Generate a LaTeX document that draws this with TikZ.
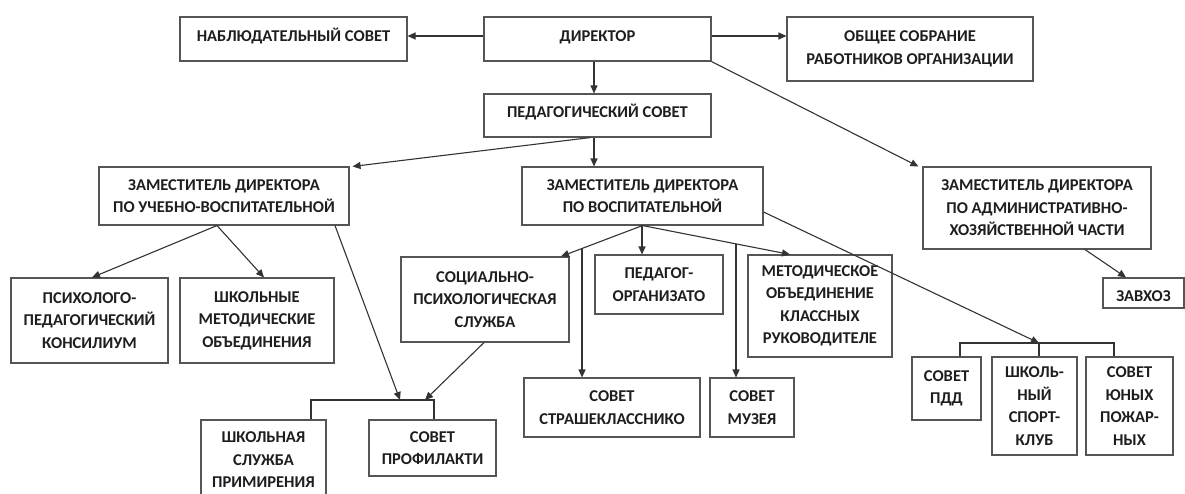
\documentclass[tikz,border=0pt]{standalone}
\usepackage{fontspec}
\setmainfont{Carlito}
\usetikzlibrary{arrows.meta,calc}
\definecolor{ln}{HTML}{333333}
\definecolor{bx}{HTML}{555555}
\definecolor{tx}{HTML}{1E1E1E}
\newcommand{\lowr}[2]{\raisebox{#1}[0pt][0pt]{#2}}
\tikzset{
  box/.style={draw=bx, line width=1.1pt, fill=white, inner sep=0pt, align=center, text=tx,
    font=\bfseries\fontsize{16.5}{22.5}\selectfont},
  arr/.style={draw=ln, line width=1.1pt, -{Triangle[length=8pt,width=7pt]}},
  ln/.style={draw=ln, line width=1.1pt}
}
\begin{document}
\begin{tikzpicture}[x=1pt,y=-1pt]
\useasboundingbox[fill=white] (0,0) rectangle (1185,493);
% row 1
\node[box, minimum width=227pt, minimum height=44pt] (nabl) at (293.5,39) {\lowr{-2pt}{НАБЛЮДАТЕЛЬНЫЙ СОВЕТ}};
\node[box, minimum width=227pt, minimum height=44pt] (dir) at (597.5,39) {\lowr{-2pt}{ДИРЕКТОР}};
\node[box, minimum width=246pt, minimum height=64pt] (obsh) at (910,49) {ОБЩЕЕ СОБРАНИЕ\\РАБОТНИКОВ ОРГАНИЗАЦИИ};
% row 2
\node[box, minimum width=227pt, minimum height=43pt] (ped) at (597.5,115.5) {\lowr{-2pt}{ПЕДАГОГИЧЕСКИЙ СОВЕТ}};
% row 3
\node[box, minimum width=250pt, minimum height=58pt] (zuvr) at (224,196) {ЗАМЕСТИТЕЛЬ ДИРЕКТОРА\\ПО УЧЕБНО-ВОСПИТАТЕЛЬНОЙ};
\node[box, minimum width=241pt, minimum height=58pt] (zvr) at (642.5,196) {ЗАМЕСТИТЕЛЬ ДИРЕКТОРА\\ПО ВОСПИТАТЕЛЬНОЙ};
\node[box, minimum width=228pt, minimum height=82pt] (zahch) at (1037,208) {ЗАМЕСТИТЕЛЬ ДИРЕКТОРА\\ПО АДМИНИСТРАТИВНО-\\ХОЗЯЙСТВЕННОЙ ЧАСТИ};
\node[box, minimum width=81pt, minimum height=30pt] (zavhoz) at (1143.5,293) {\lowr{-8pt}{ЗАВХОЗ}};
% row 4
\node[box, minimum width=157pt, minimum height=85pt] (ppk) at (89.5,320.5) {ПСИХОЛОГО-\\ПЕДАГОГИЧЕСКИЙ\\КОНСИЛИУМ};
\node[box, minimum width=154pt, minimum height=85pt] (shmo) at (257,320.5) {ШКОЛЬНЫЕ\\МЕТОДИЧЕСКИЕ\\ОБЪЕДИНЕНИЯ};
\node[box, minimum width=168pt, minimum height=85pt] (sps) at (485,299.5) {СОЦИАЛЬНО-\\ПСИХОЛОГИЧЕСКАЯ\\СЛУЖБА};
\node[box, minimum width=128pt, minimum height=59pt] (pedorg) at (659,284.5) {ПЕДАГОГ-\\ОРГАНИЗАТО};
\node[box, minimum width=144pt, minimum height=102pt] (mok) at (820,306) {МЕТОДИЧЕСКОЕ\\ОБЪЕДИНЕНИЕ\\КЛАССНЫХ\\РУКОВОДИТЕЛЕ};
% row 5
\node[box, minimum width=176pt, minimum height=59pt] (sst) at (612,407.5) {СОВЕТ\\СТРАШЕКЛАССНИКО};
\node[box, minimum width=84pt, minimum height=59pt] (smuz) at (752,407.5) {СОВЕТ\\МУЗЕЯ};
\node[box, minimum width=125pt, minimum height=80pt] (ssp) at (263.5,460) {ШКОЛЬНАЯ\\СЛУЖБА\\ПРИМИРЕНИЯ};
\node[box, minimum width=127pt, minimum height=56pt] (sprof) at (432.5,448) {СОВЕТ\\ПРОФИЛАКТИ};
\node[box, minimum width=69pt, minimum height=63pt] (spdd) at (946.5,388.5) {СОВЕТ\\ПДД};
\node[box, minimum width=85pt, minimum height=98pt] (ssk) at (1034.5,406) {ШКОЛЬ-\\НЫЙ\\СПОРТ-\\КЛУБ};
\node[box, minimum width=87pt, minimum height=98pt] (syup) at (1129.5,406) {СОВЕТ\\ЮНЫХ\\ПОЖАР-\\НЫХ};
% bracket coordinates
\coordinate (bl1) at (311,400);
\coordinate (bl2) at (434,400);
\coordinate (blA) at (400,400);
\coordinate (blB) at (425,400);
\coordinate (br1) at (960,343);
\coordinate (br2) at (1114,343);
\coordinate (brA) at (1039,343);
% connectors
\draw[arr] ([yshift=3pt]dir.west) -- ([yshift=3pt]nabl.east);
\draw[arr] ([yshift=3pt]dir.east) -- ([yshift=3pt]dir.east -| obsh.west);
\draw[arr] ([xshift=-3.5pt]dir.south) -- ([xshift=-3.5pt]ped.north);
\draw[arr] ([xshift=-3.5pt]ped.south) -- ([xshift=-3.5pt]ped.south |- zvr.north);
\draw[arr] ([xshift=-7pt]ped.south) -- ([xshift=3pt]zuvr.north east);
\draw[arr] (dir.south east) -- ([xshift=-4pt]zahch.north west);
\draw[arr] ([xshift=-7pt]zuvr.south) -- ([xshift=2.5pt]ppk.north);
\draw[arr] ([xshift=-7pt]zuvr.south) -- ([xshift=7pt]shmo.north);
\draw[arr] ([xshift=111pt]zuvr.south) -- (blA);
\draw[arr] ([xshift=-1pt]sps.south) -- (blB);
\draw[ln] (bl1 |- ssp.north) -- (bl1) -- (bl2) -- (bl2 |- sprof.north);
\coordinate (a1) at ([xshift=76pt]sps.north);
\coordinate (a3) at ([xshift=-30pt]mok.north);
\draw[arr] (zvr.south) -- (a1);
\draw[arr] ([xshift=-0.5pt]zvr.south) -- ([xshift=-0.5pt]zvr.south |- pedorg.north);
\draw[arr] (zvr.south) -- (a3);
\coordinate (v1) at ($(zvr.south)!0.742!(a1)$);
\coordinate (v2) at ($(zvr.south)!0.634!(a3)$);
\draw[arr] (v1) -- (v1 |- sst.north);
\draw[arr] (v2) -- (v2 |- smuz.north);
\draw[arr] ([yshift=-16pt]zvr.east) -- (brA);
\draw[ln] (br1 |- spdd.north) -- (br1) -- (br2) -- (br2 |- syup.north);
\draw[ln] (brA) -- (brA |- ssk.north);
\draw[arr] ([xshift=48pt]zahch.south) -- ([xshift=-17.5pt]zavhoz.north);
\end{tikzpicture}
\end{document}
